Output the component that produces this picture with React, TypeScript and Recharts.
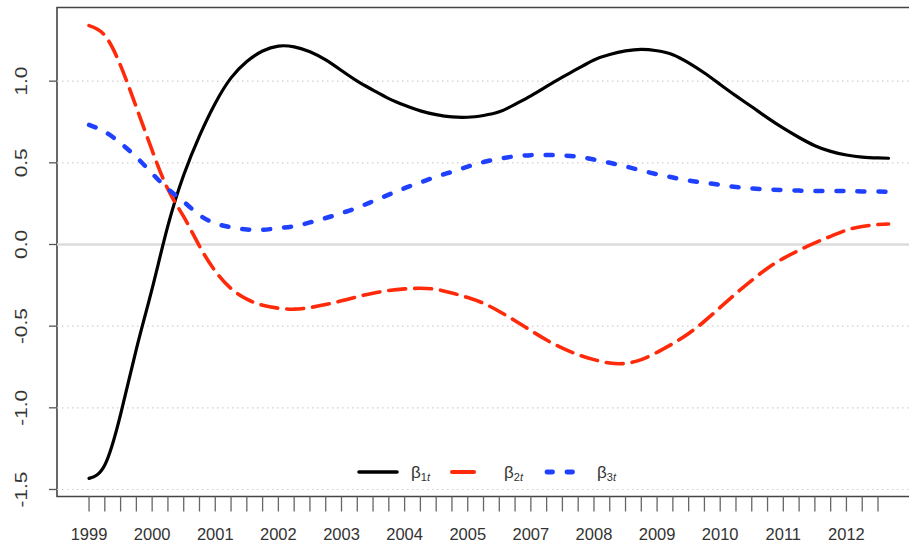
import React from "react";
import { LineChart, Line, XAxis, YAxis, CartesianGrid, ReferenceLine, ReferenceArea } from "recharts";

// quarter index (0 = 1999 tick); last point sits a little past the final tick
const xs = [0,1,2,3,4,5,6,7,8,9,10,11,12,13,14,15,16,17,18,19,20,21,22,23,24,25,26,27,28,29,30,31,32,33,34,35,36,37,38,39,40,41,42,43,44,45,46,47,48,49,50,50.67];

const beta1 = [-1.432,-1.35,-1.04,-0.64,-0.27,0.115,0.425,0.665,0.865,1.02,1.12,1.185,1.215,1.21,1.18,1.13,1.065,1.0,0.945,0.893,0.852,0.818,0.795,0.781,0.779,0.79,0.812,0.858,0.91,0.968,1.025,1.078,1.13,1.163,1.185,1.195,1.186,1.162,1.112,1.05,0.98,0.91,0.843,0.775,0.712,0.655,0.605,0.57,0.548,0.535,0.53,0.528];

const beta2 = [1.34,1.28,1.095,0.84,0.576,0.338,0.17,-0.01,-0.163,-0.27,-0.335,-0.372,-0.39,-0.396,-0.386,-0.368,-0.345,-0.32,-0.298,-0.282,-0.272,-0.268,-0.275,-0.297,-0.325,-0.36,-0.41,-0.467,-0.527,-0.585,-0.635,-0.675,-0.705,-0.726,-0.728,-0.705,-0.66,-0.607,-0.545,-0.47,-0.385,-0.3,-0.22,-0.145,-0.085,-0.035,0.01,0.05,0.088,0.11,0.122,0.125];

const beta3 = [0.732,0.69,0.62,0.535,0.435,0.34,0.262,0.18,0.13,0.105,0.092,0.09,0.1,0.112,0.135,0.162,0.192,0.225,0.265,0.305,0.345,0.38,0.415,0.445,0.477,0.505,0.525,0.54,0.547,0.548,0.545,0.537,0.52,0.5,0.478,0.453,0.43,0.41,0.392,0.378,0.365,0.352,0.343,0.337,0.333,0.33,0.328,0.327,0.327,0.325,0.324,0.323];

const yearLabels = ["1999","2000","2001","2002","2003","2004","2005","2007","2008","2009","2010","2011","2012"];
const xTicks = Array.from({ length: 51 }, (_, i) => i);
const yTicks = [-1.5, -1.0, -0.5, 0.0, 0.5, 1.0];
const gridValues = [-1.5, -1.0, -0.5, 0.5, 1.0];

const seriesNames = [
  { key: "b1", sub: "1", color: "#000000", dash: undefined as string | undefined, legendDash: undefined as string | undefined, width: 3.2 },
  { key: "b2", sub: "2", color: "#ff2a0a", dash: "17 9", legendDash: "22 100", width: 3.6 },
  { key: "b3", sub: "3", color: "#1f40ff", dash: "7 14", legendDash: "5.5 14.5", width: 4.5 },
];

const data = xs.map((x, i) => ({ x, b1: beta1[i], b2: beta2[i], b3: beta3[i] }));

const X_DOMAIN: [number, number] = [-2.03, 52.7];
const Y_DOMAIN: [number, number] = [-1.543, 1.451];

const FONT = "'Liberation Sans', Arial, Helvetica, sans-serif";

const XTick = (props: any) => {
  const { x, y, payload } = props;
  const v = payload.value as number;
  if (v % 4 !== 0) return null;
  const label = yearLabels[v / 4];
  return (
    <text x={x} y={y + 20} textAnchor="middle" dominantBaseline="central" fill="#333" fontSize={16.5} fontFamily={FONT}>
      {label}
    </text>
  );
};

const YTick = (props: any) => {
  const { x, y, payload } = props;
  const cx = x - 26;
  return (
    <text x={0} y={0} transform={`translate(${cx} ${y}) rotate(-90) scale(1.3 1)`} textAnchor="middle" dominantBaseline="central" fill="#333" fontSize={16} fontFamily={FONT}>
      {(payload.value as number).toFixed(1)}
    </text>
  );
};

const LegendBox = () => {
  const items = seriesNames.map((s, i) => {
    const x0 = i * 93;
    return (
      <g key={s.key}>
        <line x1={x0 + (i === 2 ? 4 : 2)} x2={x0 + 40} y1={18} y2={18} stroke={s.color} strokeWidth={s.width + 0.4} strokeDasharray={s.legendDash} strokeLinecap="round" />
        <text x={x0 + 54} y={24} fill="#333" fontFamily={FONT} fontSize={17}>
          β
          <tspan fontSize={11} dy={3}>{s.sub}</tspan>
          <tspan fontSize={11} fontStyle="italic">t</tspan>
        </text>
      </g>
    );
  });
  return (
    <svg width={300} height={40} style={{ position: "absolute", left: 357, top: 454, display: "block" }}>
      {items}
    </svg>
  );
};

export default function App() {
  return (
    <div style={{ position: "absolute", left: 0, top: 0, width: 909, height: 544, overflow: "hidden", background: "#fff" }}>
      <LineChart width={925} height={544} data={data} margin={{ top: 7.5, right: 4.4, bottom: 0, left: 0 }}>
        <CartesianGrid horizontal={false} vertical={false} />
        {gridValues.map((g) => (
          <ReferenceLine key={g} y={g} stroke="#cfcfcf" strokeWidth={1.2} strokeDasharray="1.5 3.5" />
        ))}
        <ReferenceLine y={0} stroke="#dcdcdc" strokeWidth={2.5} />
        <XAxis
          dataKey="x"
          type="number"
          domain={X_DOMAIN}
          ticks={xTicks}
          interval={0}
          height={47.5}
          axisLine={false}
          tickSize={15}
          tickLine={{ stroke: "#666", strokeWidth: 1.3 }}
          tick={<XTick />}
          allowDataOverflow
        />
        <YAxis
          type="number"
          domain={Y_DOMAIN}
          ticks={yTicks}
          interval={0}
          width={57}
          axisLine={false}
          tickSize={8}
          tickLine={{ stroke: "#555", strokeWidth: 1.3 }}
          tick={<YTick />}
          allowDataOverflow
        />
        <ReferenceArea x1={X_DOMAIN[0]} x2={X_DOMAIN[1]} y1={Y_DOMAIN[0]} y2={Y_DOMAIN[1]} fill="none" stroke="#444" strokeWidth={1.6} ifOverflow="visible" />
        {seriesNames.map((s) => (
          <Line
            key={s.key}
            dataKey={s.key}
            type="natural"
            stroke={s.color}
            strokeWidth={s.width}
            strokeDasharray={s.dash}
            strokeLinecap="round"
            dot={false}
            activeDot={false}
            isAnimationActive={false}
          />
        ))}
      </LineChart>
      <LegendBox />
    </div>
  );
}
